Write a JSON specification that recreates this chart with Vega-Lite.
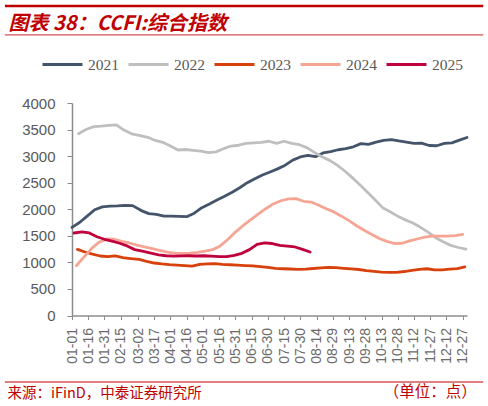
{
  "$schema": "https://vega.github.io/schema/vega-lite/v6.json",
  "description": "CCFI composite index, weekly, 2021-2025, by day of year",
  "width": 395,
  "height": 212.5,
  "autosize": {"type": "none"},
  "padding": {"left": 72, "top": 103, "right": 21, "bottom": 90.5},
  "background": "white",
  "config": {"view": {"stroke": null}, "font": "Liberation Sans"},
  "resolve": {"scale": {"x": "independent", "y": "independent"}},
  "layer": [
    {
      "data": {"values": [
        {"year": "2021", "date": "2021-01-01", "v": 1658},
        {"year": "2021", "date": "2021-01-08", "v": 1750},
        {"year": "2021", "date": "2021-01-15", "v": 1870},
        {"year": "2021", "date": "2021-01-22", "v": 1990},
        {"year": "2021", "date": "2021-01-29", "v": 2045},
        {"year": "2021", "date": "2021-02-05", "v": 2060},
        {"year": "2021", "date": "2021-02-12", "v": 2062},
        {"year": "2021", "date": "2021-02-19", "v": 2073},
        {"year": "2021", "date": "2021-02-26", "v": 2068},
        {"year": "2021", "date": "2021-03-05", "v": 1975},
        {"year": "2021", "date": "2021-03-12", "v": 1918},
        {"year": "2021", "date": "2021-03-19", "v": 1905},
        {"year": "2021", "date": "2021-03-26", "v": 1872},
        {"year": "2021", "date": "2021-04-02", "v": 1872},
        {"year": "2021", "date": "2021-04-09", "v": 1865},
        {"year": "2021", "date": "2021-04-16", "v": 1860},
        {"year": "2021", "date": "2021-04-23", "v": 1925},
        {"year": "2021", "date": "2021-04-30", "v": 2030},
        {"year": "2021", "date": "2021-05-07", "v": 2100},
        {"year": "2021", "date": "2021-05-14", "v": 2175},
        {"year": "2021", "date": "2021-05-21", "v": 2245},
        {"year": "2021", "date": "2021-05-28", "v": 2320},
        {"year": "2021", "date": "2021-06-04", "v": 2405},
        {"year": "2021", "date": "2021-06-11", "v": 2500},
        {"year": "2021", "date": "2021-06-18", "v": 2575},
        {"year": "2021", "date": "2021-06-25", "v": 2645},
        {"year": "2021", "date": "2021-07-02", "v": 2700},
        {"year": "2021", "date": "2021-07-09", "v": 2760},
        {"year": "2021", "date": "2021-07-16", "v": 2830},
        {"year": "2021", "date": "2021-07-23", "v": 2925},
        {"year": "2021", "date": "2021-07-30", "v": 2985},
        {"year": "2021", "date": "2021-08-06", "v": 3015},
        {"year": "2021", "date": "2021-08-13", "v": 2990},
        {"year": "2021", "date": "2021-08-20", "v": 3060},
        {"year": "2021", "date": "2021-08-27", "v": 3085},
        {"year": "2021", "date": "2021-09-03", "v": 3120},
        {"year": "2021", "date": "2021-09-10", "v": 3140},
        {"year": "2021", "date": "2021-09-17", "v": 3175},
        {"year": "2021", "date": "2021-09-24", "v": 3235},
        {"year": "2021", "date": "2021-10-01", "v": 3220},
        {"year": "2021", "date": "2021-10-08", "v": 3265},
        {"year": "2021", "date": "2021-10-15", "v": 3295},
        {"year": "2021", "date": "2021-10-22", "v": 3310},
        {"year": "2021", "date": "2021-10-29", "v": 3285},
        {"year": "2021", "date": "2021-11-05", "v": 3265},
        {"year": "2021", "date": "2021-11-12", "v": 3240},
        {"year": "2021", "date": "2021-11-19", "v": 3245},
        {"year": "2021", "date": "2021-11-26", "v": 3200},
        {"year": "2021", "date": "2021-12-03", "v": 3195},
        {"year": "2021", "date": "2021-12-10", "v": 3240},
        {"year": "2021", "date": "2021-12-17", "v": 3250},
        {"year": "2021", "date": "2021-12-24", "v": 3300},
        {"year": "2021", "date": "2021-12-31", "v": 3350},

        {"year": "2022", "date": "2022-01-07", "v": 3420},
        {"year": "2022", "date": "2022-01-14", "v": 3500},
        {"year": "2022", "date": "2022-01-21", "v": 3555},
        {"year": "2022", "date": "2022-01-28", "v": 3565},
        {"year": "2022", "date": "2022-02-04", "v": 3580},
        {"year": "2022", "date": "2022-02-11", "v": 3590},
        {"year": "2022", "date": "2022-02-18", "v": 3490},
        {"year": "2022", "date": "2022-02-25", "v": 3420},
        {"year": "2022", "date": "2022-03-04", "v": 3385},
        {"year": "2022", "date": "2022-03-11", "v": 3355},
        {"year": "2022", "date": "2022-03-18", "v": 3295},
        {"year": "2022", "date": "2022-03-25", "v": 3260},
        {"year": "2022", "date": "2022-04-01", "v": 3190},
        {"year": "2022", "date": "2022-04-08", "v": 3115},
        {"year": "2022", "date": "2022-04-15", "v": 3125},
        {"year": "2022", "date": "2022-04-22", "v": 3110},
        {"year": "2022", "date": "2022-04-29", "v": 3095},
        {"year": "2022", "date": "2022-05-06", "v": 3065},
        {"year": "2022", "date": "2022-05-13", "v": 3080},
        {"year": "2022", "date": "2022-05-20", "v": 3140},
        {"year": "2022", "date": "2022-05-27", "v": 3190},
        {"year": "2022", "date": "2022-06-03", "v": 3205},
        {"year": "2022", "date": "2022-06-10", "v": 3240},
        {"year": "2022", "date": "2022-06-17", "v": 3250},
        {"year": "2022", "date": "2022-06-24", "v": 3260},
        {"year": "2022", "date": "2022-07-01", "v": 3280},
        {"year": "2022", "date": "2022-07-08", "v": 3240},
        {"year": "2022", "date": "2022-07-15", "v": 3280},
        {"year": "2022", "date": "2022-07-22", "v": 3240},
        {"year": "2022", "date": "2022-07-29", "v": 3215},
        {"year": "2022", "date": "2022-08-05", "v": 3160},
        {"year": "2022", "date": "2022-08-12", "v": 3070},
        {"year": "2022", "date": "2022-08-19", "v": 2990},
        {"year": "2022", "date": "2022-08-26", "v": 2920},
        {"year": "2022", "date": "2022-09-02", "v": 2830},
        {"year": "2022", "date": "2022-09-09", "v": 2720},
        {"year": "2022", "date": "2022-09-16", "v": 2595},
        {"year": "2022", "date": "2022-09-23", "v": 2460},
        {"year": "2022", "date": "2022-09-30", "v": 2320},
        {"year": "2022", "date": "2022-10-07", "v": 2180},
        {"year": "2022", "date": "2022-10-14", "v": 2030},
        {"year": "2022", "date": "2022-10-21", "v": 1953},
        {"year": "2022", "date": "2022-10-28", "v": 1870},
        {"year": "2022", "date": "2022-11-04", "v": 1800},
        {"year": "2022", "date": "2022-11-11", "v": 1740},
        {"year": "2022", "date": "2022-11-18", "v": 1660},
        {"year": "2022", "date": "2022-11-25", "v": 1570},
        {"year": "2022", "date": "2022-12-02", "v": 1465},
        {"year": "2022", "date": "2022-12-09", "v": 1390},
        {"year": "2022", "date": "2022-12-16", "v": 1320},
        {"year": "2022", "date": "2022-12-23", "v": 1280},
        {"year": "2022", "date": "2022-12-30", "v": 1250},

        {"year": "2023", "date": "2023-01-06", "v": 1245},
        {"year": "2023", "date": "2023-01-13", "v": 1195},
        {"year": "2023", "date": "2023-01-20", "v": 1155},
        {"year": "2023", "date": "2023-01-27", "v": 1120},
        {"year": "2023", "date": "2023-02-03", "v": 1108},
        {"year": "2023", "date": "2023-02-10", "v": 1122},
        {"year": "2023", "date": "2023-02-17", "v": 1090},
        {"year": "2023", "date": "2023-02-24", "v": 1072},
        {"year": "2023", "date": "2023-03-03", "v": 1055},
        {"year": "2023", "date": "2023-03-10", "v": 1018},
        {"year": "2023", "date": "2023-03-17", "v": 988},
        {"year": "2023", "date": "2023-03-24", "v": 970},
        {"year": "2023", "date": "2023-03-31", "v": 958},
        {"year": "2023", "date": "2023-04-07", "v": 950},
        {"year": "2023", "date": "2023-04-14", "v": 940},
        {"year": "2023", "date": "2023-04-21", "v": 930},
        {"year": "2023", "date": "2023-04-28", "v": 962},
        {"year": "2023", "date": "2023-05-05", "v": 970},
        {"year": "2023", "date": "2023-05-12", "v": 975},
        {"year": "2023", "date": "2023-05-19", "v": 963},
        {"year": "2023", "date": "2023-05-26", "v": 955},
        {"year": "2023", "date": "2023-06-02", "v": 948},
        {"year": "2023", "date": "2023-06-09", "v": 940},
        {"year": "2023", "date": "2023-06-16", "v": 933},
        {"year": "2023", "date": "2023-06-23", "v": 920},
        {"year": "2023", "date": "2023-06-30", "v": 905},
        {"year": "2023", "date": "2023-07-07", "v": 888},
        {"year": "2023", "date": "2023-07-14", "v": 880},
        {"year": "2023", "date": "2023-07-21", "v": 875},
        {"year": "2023", "date": "2023-07-28", "v": 870},
        {"year": "2023", "date": "2023-08-04", "v": 872},
        {"year": "2023", "date": "2023-08-11", "v": 885},
        {"year": "2023", "date": "2023-08-18", "v": 895},
        {"year": "2023", "date": "2023-08-25", "v": 905},
        {"year": "2023", "date": "2023-09-01", "v": 900},
        {"year": "2023", "date": "2023-09-08", "v": 888},
        {"year": "2023", "date": "2023-09-15", "v": 878},
        {"year": "2023", "date": "2023-09-22", "v": 866},
        {"year": "2023", "date": "2023-09-29", "v": 845},
        {"year": "2023", "date": "2023-10-06", "v": 830},
        {"year": "2023", "date": "2023-10-13", "v": 815},
        {"year": "2023", "date": "2023-10-20", "v": 812},
        {"year": "2023", "date": "2023-10-27", "v": 812},
        {"year": "2023", "date": "2023-11-03", "v": 828},
        {"year": "2023", "date": "2023-11-10", "v": 848},
        {"year": "2023", "date": "2023-11-17", "v": 868},
        {"year": "2023", "date": "2023-11-24", "v": 880},
        {"year": "2023", "date": "2023-12-01", "v": 860},
        {"year": "2023", "date": "2023-12-08", "v": 860},
        {"year": "2023", "date": "2023-12-15", "v": 872},
        {"year": "2023", "date": "2023-12-22", "v": 882},
        {"year": "2023", "date": "2023-12-29", "v": 915},

        {"year": "2024", "date": "2024-01-05", "v": 937},
        {"year": "2024", "date": "2024-01-12", "v": 1100},
        {"year": "2024", "date": "2024-01-19", "v": 1260},
        {"year": "2024", "date": "2024-01-26", "v": 1380},
        {"year": "2024", "date": "2024-02-02", "v": 1440},
        {"year": "2024", "date": "2024-02-09", "v": 1435},
        {"year": "2024", "date": "2024-02-16", "v": 1395},
        {"year": "2024", "date": "2024-02-23", "v": 1365},
        {"year": "2024", "date": "2024-03-01", "v": 1325},
        {"year": "2024", "date": "2024-03-08", "v": 1290},
        {"year": "2024", "date": "2024-03-15", "v": 1258},
        {"year": "2024", "date": "2024-03-22", "v": 1225},
        {"year": "2024", "date": "2024-03-29", "v": 1195},
        {"year": "2024", "date": "2024-04-05", "v": 1172},
        {"year": "2024", "date": "2024-04-12", "v": 1168},
        {"year": "2024", "date": "2024-04-19", "v": 1175},
        {"year": "2024", "date": "2024-04-26", "v": 1190},
        {"year": "2024", "date": "2024-05-03", "v": 1210},
        {"year": "2024", "date": "2024-05-10", "v": 1240},
        {"year": "2024", "date": "2024-05-17", "v": 1310},
        {"year": "2024", "date": "2024-05-24", "v": 1430},
        {"year": "2024", "date": "2024-05-31", "v": 1570},
        {"year": "2024", "date": "2024-06-07", "v": 1690},
        {"year": "2024", "date": "2024-06-14", "v": 1800},
        {"year": "2024", "date": "2024-06-21", "v": 1910},
        {"year": "2024", "date": "2024-06-28", "v": 2010},
        {"year": "2024", "date": "2024-07-05", "v": 2100},
        {"year": "2024", "date": "2024-07-12", "v": 2160},
        {"year": "2024", "date": "2024-07-19", "v": 2195},
        {"year": "2024", "date": "2024-07-26", "v": 2200},
        {"year": "2024", "date": "2024-08-02", "v": 2150},
        {"year": "2024", "date": "2024-08-09", "v": 2135},
        {"year": "2024", "date": "2024-08-16", "v": 2075},
        {"year": "2024", "date": "2024-08-23", "v": 2010},
        {"year": "2024", "date": "2024-08-30", "v": 1950},
        {"year": "2024", "date": "2024-09-06", "v": 1870},
        {"year": "2024", "date": "2024-09-13", "v": 1785},
        {"year": "2024", "date": "2024-09-20", "v": 1690},
        {"year": "2024", "date": "2024-09-27", "v": 1605},
        {"year": "2024", "date": "2024-10-04", "v": 1525},
        {"year": "2024", "date": "2024-10-11", "v": 1450},
        {"year": "2024", "date": "2024-10-18", "v": 1395},
        {"year": "2024", "date": "2024-10-25", "v": 1355},
        {"year": "2024", "date": "2024-11-01", "v": 1360},
        {"year": "2024", "date": "2024-11-08", "v": 1405},
        {"year": "2024", "date": "2024-11-15", "v": 1440},
        {"year": "2024", "date": "2024-11-22", "v": 1475},
        {"year": "2024", "date": "2024-11-29", "v": 1495},
        {"year": "2024", "date": "2024-12-06", "v": 1495},
        {"year": "2024", "date": "2024-12-13", "v": 1495},
        {"year": "2024", "date": "2024-12-20", "v": 1505},
        {"year": "2024", "date": "2024-12-27", "v": 1525},

        {"year": "2025", "date": "2025-01-03", "v": 1553},
        {"year": "2025", "date": "2025-01-10", "v": 1575},
        {"year": "2025", "date": "2025-01-17", "v": 1555},
        {"year": "2025", "date": "2025-01-24", "v": 1482},
        {"year": "2025", "date": "2025-01-31", "v": 1435},
        {"year": "2025", "date": "2025-02-07", "v": 1400},
        {"year": "2025", "date": "2025-02-14", "v": 1360},
        {"year": "2025", "date": "2025-02-21", "v": 1310},
        {"year": "2025", "date": "2025-02-28", "v": 1240},
        {"year": "2025", "date": "2025-03-07", "v": 1205},
        {"year": "2025", "date": "2025-03-14", "v": 1172},
        {"year": "2025", "date": "2025-03-21", "v": 1140},
        {"year": "2025", "date": "2025-03-28", "v": 1125},
        {"year": "2025", "date": "2025-04-04", "v": 1118},
        {"year": "2025", "date": "2025-04-11", "v": 1122},
        {"year": "2025", "date": "2025-04-18", "v": 1125},
        {"year": "2025", "date": "2025-04-25", "v": 1120},
        {"year": "2025", "date": "2025-05-02", "v": 1125},
        {"year": "2025", "date": "2025-05-09", "v": 1118},
        {"year": "2025", "date": "2025-05-16", "v": 1108},
        {"year": "2025", "date": "2025-05-23", "v": 1110},
        {"year": "2025", "date": "2025-05-30", "v": 1130},
        {"year": "2025", "date": "2025-06-06", "v": 1170},
        {"year": "2025", "date": "2025-06-13", "v": 1240},
        {"year": "2025", "date": "2025-06-20", "v": 1338},
        {"year": "2025", "date": "2025-06-27", "v": 1368},
        {"year": "2025", "date": "2025-07-04", "v": 1355},
        {"year": "2025", "date": "2025-07-11", "v": 1320},
        {"year": "2025", "date": "2025-07-18", "v": 1305},
        {"year": "2025", "date": "2025-07-25", "v": 1290},
        {"year": "2025", "date": "2025-08-01", "v": 1245},
        {"year": "2025", "date": "2025-08-08", "v": 1195}
      ]},
      "mark": {"type": "line", "strokeWidth": 2.8, "strokeJoin": "round", "strokeCap": "round"},
      "encoding": {
        "x": {
          "field": "date",
          "timeUnit": "utcmonthdate",
          "type": "temporal",
          "title": "来源：iFinD，中泰证券研究所",
          "scale": {
            "type": "utc",
            "nice": false,
            "domain": [
              {"year": 2012, "month": 1, "date": 1, "utc": true},
              {"year": 2012, "month": 12, "date": 31, "utc": true}
            ]
          },
          "axis": {
            "values": [
              {"year": 2012, "month": 1, "date": 1, "utc": true},
              {"year": 2012, "month": 1, "date": 16, "utc": true},
              {"year": 2012, "month": 1, "date": 31, "utc": true},
              {"year": 2012, "month": 2, "date": 15, "utc": true},
              {"year": 2012, "month": 3, "date": 2, "utc": true},
              {"year": 2012, "month": 3, "date": 17, "utc": true},
              {"year": 2012, "month": 4, "date": 1, "utc": true},
              {"year": 2012, "month": 4, "date": 16, "utc": true},
              {"year": 2012, "month": 5, "date": 1, "utc": true},
              {"year": 2012, "month": 5, "date": 16, "utc": true},
              {"year": 2012, "month": 5, "date": 31, "utc": true},
              {"year": 2012, "month": 6, "date": 15, "utc": true},
              {"year": 2012, "month": 6, "date": 30, "utc": true},
              {"year": 2012, "month": 7, "date": 15, "utc": true},
              {"year": 2012, "month": 7, "date": 30, "utc": true},
              {"year": 2012, "month": 8, "date": 14, "utc": true},
              {"year": 2012, "month": 8, "date": 29, "utc": true},
              {"year": 2012, "month": 9, "date": 13, "utc": true},
              {"year": 2012, "month": 9, "date": 28, "utc": true},
              {"year": 2012, "month": 10, "date": 13, "utc": true},
              {"year": 2012, "month": 10, "date": 28, "utc": true},
              {"year": 2012, "month": 11, "date": 12, "utc": true},
              {"year": 2012, "month": 11, "date": 27, "utc": true},
              {"year": 2012, "month": 12, "date": 12, "utc": true},
              {"year": 2012, "month": 12, "date": 27, "utc": true}
            ],
            "format": "%m-%d",
            "labelAngle": 270,
            "labelFontSize": 14,
            "labelColor": "#6b6b6b",
            "labelPadding": 8,
            "labelOverlap": false,
            "labelFlush": false,
            "labelBound": false,
            "tickSize": 4,
            "tickColor": "#8c8c8c",
            "domainColor": "#8c8c8c",
            "domainWidth": 1.5,
            "grid": false,
            "titleX": -65,
            "titleY": 81.5,
            "titleAlign": "left",
            "titleBaseline": "alphabetic",
            "titleFont": "Noto Sans CJK SC",
            "titleFontSize": 14.5,
            "titleFontWeight": "normal",
            "titleColor": "#C00000"
          }
        },
        "y": {
          "field": "v",
          "type": "quantitative",
          "title": "图表 38：CCFI:综合指数",
          "scale": {"domain": [0, 4000], "nice": false},
          "axis": {
            "values": [0, 500, 1000, 1500, 2000, 2500, 3000, 3500, 4000],
            "format": "d",
            "labelOverlap": false,
            "grid": false,
            "labelFontSize": 15,
            "labelColor": "#595959",
            "labelPadding": 12,
            "tickSize": 5,
            "tickColor": "#8c8c8c",
            "domainColor": "#8c8c8c",
            "domainWidth": 1.5,
            "titleAngle": 0,
            "titleX": -64,
            "titleY": -74,
            "titleAlign": "left",
            "titleBaseline": "alphabetic",
            "titleFont": "Noto Sans CJK SC",
            "titleFontSize": 20,
            "titleFontWeight": "bold",
            "titleFontStyle": "italic",
            "titleColor": "#C00000"
          }
        },
        "color": {
          "field": "year",
          "type": "nominal",
          "scale": {
            "domain": ["2021", "2022", "2023", "2024", "2025"],
            "range": ["#44546A", "#BFBFBF", "#D8400C", "#F6A594", "#C0003C"]
          },
          "legend": {
            "title": null,
            "orient": "none",
            "direction": "horizontal",
            "legendX": -31,
            "legendY": -60,
            "symbolType": "stroke",
            "symbolSize": 1600,
            "symbolStrokeWidth": 3,
            "labelFont": "Liberation Serif",
            "labelFontSize": 15.5,
            "labelColor": "#595959",
            "labelOffset": 4,
            "columnPadding": 3
          }
        }
      }
    },
    {
      "data": {"values": [{}]},
      "mark": {"type": "rule", "color": "#C00000", "strokeWidth": 2.5},
      "encoding": {
        "x": {"datum": {"year": 2011, "month": 10, "date": 31, "utc": true}, "type": "temporal", "axis": null,
              "scale": {"type": "utc", "nice": false, "domain": [{"year": 2012, "month": 1, "date": 1, "utc": true}, {"year": 2012, "month": 12, "date": 31, "utc": true}]}},
        "x2": {"datum": {"year": 2013, "month": 1, "date": 15, "utc": true}},
        "y": {"datum": 5826, "type": "quantitative", "axis": null, "scale": {"domain": [0, 4000], "nice": false}}
      }
    },
    {
      "data": {"values": [{}]},
      "mark": {"type": "rule", "color": "#D65050", "strokeWidth": 1.3},
      "encoding": {
        "x": {"datum": {"year": 2011, "month": 10, "date": 31, "utc": true}, "type": "temporal", "axis": null,
              "scale": {"type": "utc", "nice": false, "domain": [{"year": 2012, "month": 1, "date": 1, "utc": true}, {"year": 2012, "month": 12, "date": 31, "utc": true}]}},
        "x2": {"datum": {"year": 2013, "month": 1, "date": 15, "utc": true}},
        "y": {"datum": 5284, "type": "quantitative", "axis": null, "scale": {"domain": [0, 4000], "nice": false}}
      }
    },
    {
      "data": {"values": [{}]},
      "mark": {"type": "rule", "color": "#C00000", "strokeWidth": 1},
      "encoding": {
        "x": {"datum": {"year": 2011, "month": 10, "date": 31, "utc": true}, "type": "temporal", "axis": null,
              "scale": {"type": "utc", "nice": false, "domain": [{"year": 2012, "month": 1, "date": 1, "utc": true}, {"year": 2012, "month": 12, "date": 31, "utc": true}]}},
        "x2": {"datum": {"year": 2013, "month": 1, "date": 15, "utc": true}},
        "y": {"datum": -1252, "type": "quantitative", "axis": null, "scale": {"domain": [0, 4000], "nice": false}}
      }
    },
    {
      "data": {"values": [{}]},
      "mark": {"type": "text", "align": "right", "baseline": "alphabetic", "font": "Noto Sans CJK SC", "fontSize": 15.5, "color": "#C00000"},
      "encoding": {
        "x": {"datum": {"year": 2013, "month": 1, "date": 9, "utc": true}, "type": "temporal", "axis": null,
              "scale": {"type": "utc", "nice": false, "domain": [{"year": 2012, "month": 1, "date": 1, "utc": true}, {"year": 2012, "month": 12, "date": 31, "utc": true}]}},
        "y": {"datum": -1534, "type": "quantitative", "axis": null, "scale": {"domain": [0, 4000], "nice": false}},
        "text": {"value": "（单位：点）"}
      }
    }
  ]
}
